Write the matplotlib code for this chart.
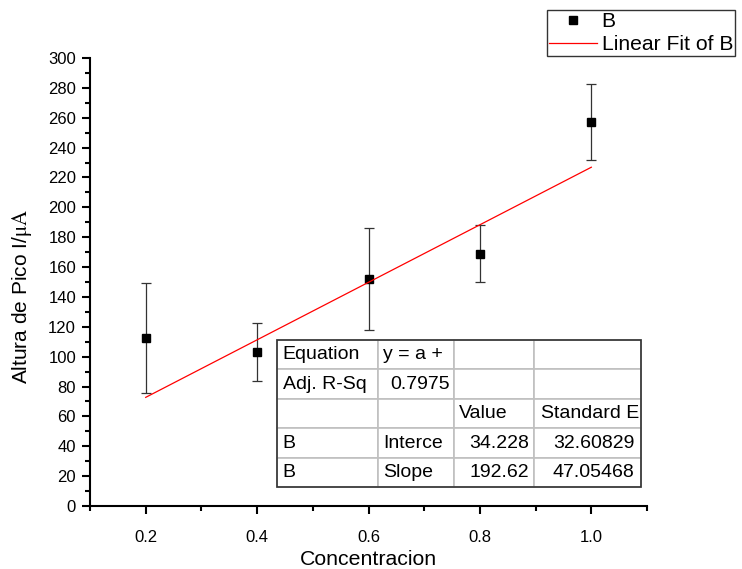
import numpy as np
import matplotlib.pyplot as plt
from matplotlib.lines import Line2D
from matplotlib.patches import Rectangle
from matplotlib.ticker import MultipleLocator

plt.rcParams['font.family'] = ['Liberation Sans', 'DejaVu Sans']
plt.rcParams['mathtext.fontset'] = 'stix'

# data
conc = np.array([0.2, 0.4, 0.6, 0.8, 1.0])
height = np.array([112.5, 103, 152, 169, 257])
err = np.array([37, 19.5, 34, 19, 25.5])

# fit parameters (from the table)
intercept = 34.228
slope = 192.62

table_rows = [
    ["Equation", "y = a +", "", ""],
    ["Adj. R-Sq", "0.7975", "", ""],
    ["", "", "Value", "Standard E"],
    ["B", "Interce", "34.228", "32.60829"],
    ["B", "Slope", "192.62", "47.05468"],
]

fig = plt.figure(figsize=(7.42, 5.69), dpi=100)
ax = fig.add_axes([0.1213, 0.1107, 0.7507, 0.7874])

ax.errorbar(conc, height, yerr=err, fmt='none', ecolor='#333333',
            elinewidth=0.9, capsize=3.7, capthick=0.9)
ax.plot(conc, height, 's', color='black', markersize=6)
xfit = np.array([conc.min(), conc.max()])
ax.plot(xfit, intercept + slope * xfit, color='red', linewidth=0.9)

ax.set_xlim(0.1, 1.1)
ax.set_ylim(0, 300)
ax.xaxis.set_minor_locator(MultipleLocator(0.1))
ax.yaxis.set_major_locator(MultipleLocator(20))
ax.yaxis.set_minor_locator(MultipleLocator(10))
ax.set_xticks([0.2, 0.4, 0.6, 0.8, 1.0])
ax.set_xticklabels(["0.2", "0.4", "0.6", "0.8", "1.0"])
ax.spines['top'].set_visible(False)
ax.spines['right'].set_visible(False)
ax.spines['left'].set_linewidth(1.5)
ax.spines['bottom'].set_linewidth(1.5)
ax.tick_params(which='major', direction='out', length=6, width=1.5, labelsize=12, pad=4)
ax.tick_params(which='minor', direction='out', length=3.5, width=1.5)
ax.tick_params(axis='x', pad=11)

ax.set_xlabel("Concentracion", fontsize=15.3, labelpad=4)
ax.set_ylabel(r"Altura de Pico I/$\mathrm{\mu A}$", fontsize=15)
ax.yaxis.set_label_coords(-0.10, 0.467)

# fit results table
tbl = ax.table(cellText=table_rows, bbox=[0.335, 0.0418, 0.6537, 0.329],
               colWidths=[101.6, 75.7, 80.3, 106.4], cellLoc='left')
tbl.auto_set_font_size(False)
tbl.set_fontsize(14)
for (r, c), cell in tbl.get_celld().items():
    cell.set_edgecolor('#c0c0c0')
    cell.set_linewidth(1.2)
    cell.PAD = 0.06
    if (r >= 3 and c >= 2) or (r == 1 and c == 1):
        cell._loc = 'right'
        cell.get_text().set_horizontalalignment('right')
ax.add_patch(Rectangle((0.335, 0.0418), 0.6537, 0.329, transform=ax.transAxes,
                       fill=False, edgecolor='#333333', linewidth=1.2, zorder=5))

handles = [Line2D([], [], marker='s', color='black', linestyle='none', markersize=6),
           Line2D([], [], color='red', linewidth=0.9)]
fig.legend(handles, ["B", "Linear Fit of B"], loc='upper left',
           bbox_to_anchor=(546.7 / 742, 1 - 10 / 569), fontsize=15.2,
           frameon=True, fancybox=False, edgecolor='black', borderpad=0.1,
           handlelength=2.3, handletextpad=0.2, labelspacing=0.2, borderaxespad=0)

fig.savefig("out.png", dpi=100)
